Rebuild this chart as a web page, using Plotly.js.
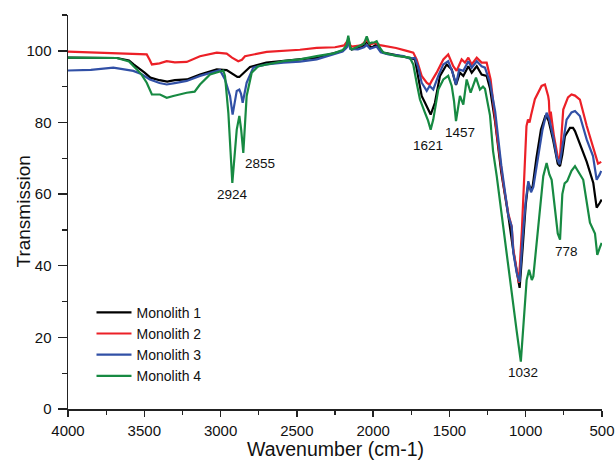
<!DOCTYPE html>
<html>
<head>
<meta charset="utf-8">
<script src="https://cdn.plot.ly/plotly-3.0.1.min.js"></script>
<style>html,body{margin:0;padding:0;background:#fff;}#chart{width:615px;height:460px;}</style>
</head>
<body>
<div id="chart"></div>
<script>
// ---- Data (wavenumber in cm-1, transmission in %) ----
const seriesNames = ['Monolith 1', 'Monolith 2', 'Monolith 3', 'Monolith 4'];

const wnM1 = [4000,3800,3680,3600,3570,3500,3460,3400,3350,3300,3220,3135,3025,2960,2920,2890,2877,2850,2807,2700,2480,2370,2260,2200,2175,2163,2150,2141,2100,2060,2042,2025,2010,1990,1977,1960,1933,1850,1780,1760,1726,1704,1682,1660,1649,1623,1595,1562,1518,1485,1457,1431,1409,1376,1354,1321,1289,1256,1234,1200,1160,1114,1081,1059,1040,1020,1000,983,970,955,930,900,870,850,820,790,775,760,743,710,690,677,645,600,557,535,515,502];
const tM1  = [98.1,98.1,98.0,97.3,96.2,94.0,92.5,91.8,91.4,91.8,92.0,93.4,94.8,94.6,93.6,92.7,92.7,93.8,95.5,96.7,97.6,98.1,99.3,100.0,101.0,103.5,101.0,100.4,100.8,101.5,102.7,101.5,100.9,101.5,101.8,100.5,99.5,98.8,98.3,98.0,97.6,93.0,87.4,85.5,84.6,82.2,85.5,93.0,96.2,94.8,90.5,93.9,93.0,95.7,93.9,95.7,93.4,93.0,89.5,80,66,54,44,38,33.8,45,57,63.1,61.5,62,70,78,82,80.5,75,68.5,67.8,71,76.2,78.5,78.5,77.6,73.8,69,63.1,56.2,57.5,58.5];

const wnM2 = [4000,3800,3600,3484,3465,3450,3400,3353,3300,3222,3135,3025,2960,2925,2884,2860,2840,2698,2480,2370,2250,2190,2173,2160,2140,2080,2042,2020,1990,1955,1850,1780,1737,1715,1682,1649,1630,1616,1584,1540,1508,1475,1453,1420,1398,1376,1354,1321,1289,1256,1230,1190,1147,1114,1092,1081,1059,1045,1025,1015,1005,995,985,975,965,940,896,874,853,848,842,836,815,787,775,754,723,700,677,645,600,559,535,526,505];
const tM2  = [99.8,99.5,99.3,99.0,97.5,96.2,96.5,97.1,96.8,96.9,98.5,99.5,99.2,98.1,97.1,97.5,98.5,99.7,100.3,100.8,101.0,101.5,102.5,102.0,101.2,101.5,103.0,101.8,102.2,101.6,100.8,100.0,99.5,97.6,93.0,91.1,90.5,91.6,93.9,97.6,99.0,95.7,94.4,97.6,96.7,98.1,96.2,98.1,96.7,96.7,92,77,63,54.5,51,44.5,38.5,35.2,50,60,70,79,80.8,80,82,86.5,90.2,90.6,87.4,86,80,83,76.2,69.7,70.5,83.6,87,87.8,87.5,86.4,79,73.4,69.5,68.5,69];

const wnM3 = [4000,3850,3703,3650,3572,3520,3463,3400,3353,3300,3222,3135,3004,2971,2938,2921,2905,2894,2877,2866,2855,2840,2829,2786,2700,2589,2480,2370,2260,2200,2175,2163,2150,2100,2060,2042,2020,1990,1977,1950,1900,1800,1759,1726,1704,1682,1649,1630,1606,1573,1540,1508,1479,1457,1436,1409,1376,1354,1321,1289,1267,1234,1200,1160,1114,1092,1081,1059,1040,1020,1000,983,965,950,920,890,863,845,820,795,778,760,732,700,677,645,600,559,535,515,505];
const tM3  = [94.5,94.7,95.3,95.0,94.4,93.5,92.0,91.0,90.6,91.0,91.6,93.0,94.6,92.0,87.4,82.2,86,88.8,89.2,88,85.5,88.5,91.1,95.3,96.2,96.7,97.0,97.6,99.0,99.8,100.8,102.3,100.5,100.4,101.0,101.6,100.6,101.0,101.2,99.6,99.0,98.5,97.8,98.0,95.3,91.1,88.8,90.2,89.2,93.0,96.2,97.1,93.9,90.6,94.8,94.4,97.1,95.3,97.1,95.7,95.3,91.1,83,68,54,51,43.6,38,35.5,48,58,63.6,60.5,62,70,78,82.7,80.8,76,70,68.3,73,80.8,82.8,83.2,81.8,75.2,70.6,64,65.5,66.5];

const wnM4 = [4000,3800,3680,3600,3572,3520,3484,3450,3397,3370,3353,3310,3222,3170,3135,3069,2982,2971,2949,2923,2905,2894,2877,2865,2851,2840,2829,2796,2753,2589,2480,2370,2260,2200,2175,2163,2150,2141,2100,2060,2042,2025,2010,1990,1977,1955,1933,1850,1760,1737,1715,1693,1660,1640,1623,1606,1573,1540,1508,1485,1470,1457,1431,1409,1387,1361,1326,1300,1280,1267,1234,1214,1190,1149,1120,1092,1060,1032,1016,994,978,960,950,918,885,863,845,830,810,790,775,760,745,728,700,677,623,600,579,546,531,515,502];
const tM4  = [98.1,98.1,98.0,97.0,95.7,93.5,91.1,87.8,87.8,87.3,86.9,87.4,88.3,88.6,90.6,93.4,94.5,93.0,82.7,63.1,72,78.0,81.8,78,71.5,80,87.4,93.9,95.7,97.1,97.6,98.5,99.3,100.2,101.5,104.2,101,100.4,101.2,102,104.0,102,102.3,102.4,102.7,100.8,99.5,98.6,98.1,96.2,91.1,86.4,82.7,80.5,78.0,80.8,89.2,92.0,93.0,90.2,86,80.4,87.4,85.0,92.0,88.3,92.5,89.2,90,89.4,82,72,65,51,42,32.4,22,13.2,23,36,38.9,36,37,51,65,68.7,65.5,64,57,49,47.3,60,63,63.6,66.5,67.8,64,58,52,49,43,45,46.4];

const peakLabels = ['2924', '2855', '1621', '1457', '1032', '778'];
const xTitle = 'Wavenumber (cm-1)';
const yTitle = 'Transmission';

// ---- Build chart ----
const colors = ['#000000', '#ec2027', '#3150a6', '#178a42'];
const xs = [wnM1, wnM2, wnM3, wnM4];
const ys = [tM1, tM2, tM3, tM4];
const traces = seriesNames.map((n, i) => ({
  x: xs[i], y: ys[i], name: n, type: 'scatter', mode: 'lines',
  line: {color: colors[i], width: 2.2}
}));

const fontFam = 'Arial, "Liberation Sans", sans-serif';
const annPos = [[2919, 59.9], [2742, 68.5], [1641, 73.6], [1431, 77.2], [1020, 10.2], [731, 44.0]];
const annotations = peakLabels.map((t, i) => ({
  x: annPos[i][0], y: annPos[i][1], xref: 'x', yref: 'y', text: t,
  showarrow: false, font: {size: 13.5, family: fontFam, color: '#111'}
}));
// axis titles placed as text annotations
annotations.push({
  x: 0, y: 0.5, xref: 'paper', yref: 'paper', xanchor: 'center', yanchor: 'middle',
  xshift: -45.5, text: yTitle, textangle: -90, showarrow: false,
  font: {size: 19, family: fontFam, color: '#111'}
});
annotations.push({
  x: 0.5, y: 0, xref: 'paper', yref: 'paper', xanchor: 'center', yanchor: 'middle',
  yshift: -40, text: xTitle, showarrow: false,
  font: {size: 19.5, family: fontFam, color: '#111'}
});

const layout = {
  width: 615, height: 460,
  margin: {l: 68, r: 13, t: 15, b: 51},
  paper_bgcolor: '#fff', plot_bgcolor: '#fff',
  font: {family: fontFam, color: '#111'},
  showlegend: true,
  legend: {x: 0.044, y: 0.285, xanchor: 'left', yanchor: 'top', itemwidth: 35,
           bgcolor: 'rgba(0,0,0,0)', font: {size: 14, family: fontFam, color: '#111'},
           tracegroupgap: 0},
  xaxis: {
    range: [4000, 500], showgrid: false, zeroline: false,
    showline: true, linecolor: '#222', linewidth: 1.5,
    ticks: 'outside', ticklen: 6, tickwidth: 1.5, tickcolor: '#222',
    dtick: 500, tick0: 500, ticklabelstandoff: 1,
    minor: {ticks: 'outside', ticklen: 4, tickwidth: 1.2, tickcolor: '#222', dtick: 250, showgrid: false},
    tickfont: {size: 15, family: fontFam, color: '#111'}
  },
  yaxis: {
    range: [0, 110], showgrid: false, zeroline: false,
    showline: true, linecolor: '#222', linewidth: 1.5,
    ticks: 'outside', ticklen: 9, tickwidth: 1.5, tickcolor: '#222',
    dtick: 20, tick0: 0, ticklabelstandoff: 3,
    minor: {ticks: 'outside', ticklen: 5, tickwidth: 1.2, tickcolor: '#222', dtick: 10, showgrid: false},
    tickfont: {size: 15, family: fontFam, color: '#111'}
  },
  annotations: annotations
};

Plotly.newPlot('chart', traces, layout, {displayModeBar: false, staticPlot: true});
</script>
</body>
</html>
